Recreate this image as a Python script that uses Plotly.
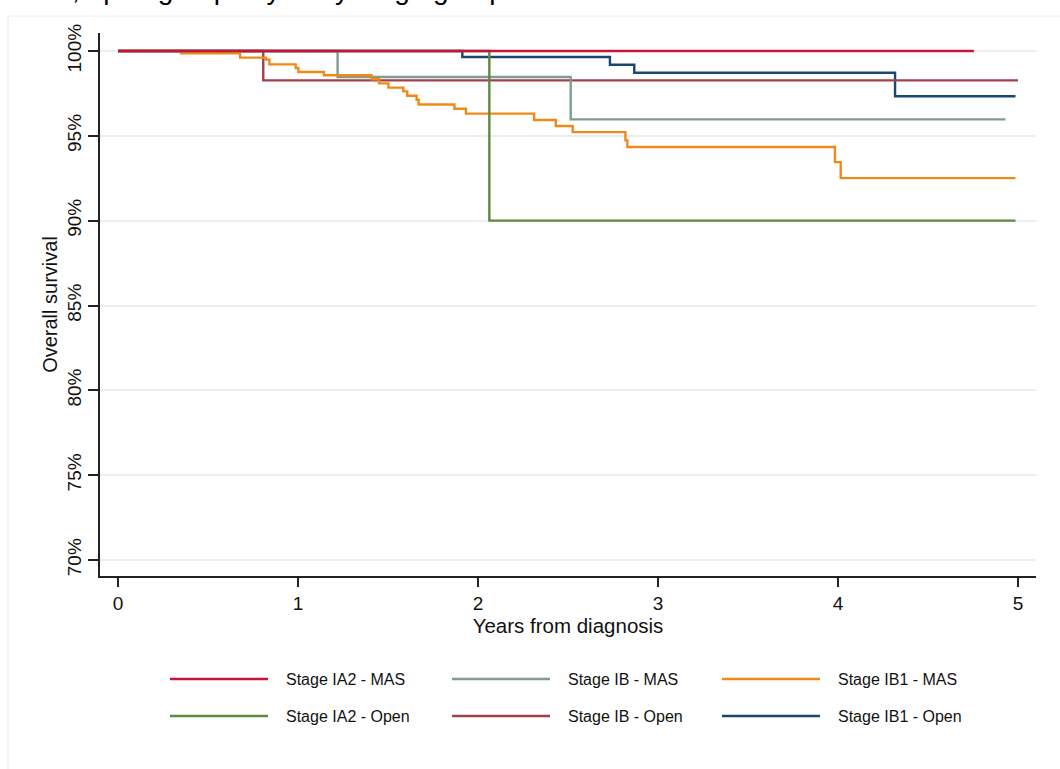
import plotly.graph_objects as go

# ---------------- data ----------------
series_names = ["Stage IA2 - MAS", "Stage IB - MAS", "Stage IB1 - MAS",
                "Stage IA2 - Open", "Stage IB - Open", "Stage IB1 - Open"]
series_colors = ["#c8143c", "#7f9c90", "#ef8a17",
                 "#5d8a3c", "#a0404f", "#1a476f"]

ia2_mas_t = [0, 4.755]
ia2_mas_s = [100, 100]

ib_mas_t = [0, 1.22, 2.515, 4.93]
ib_mas_s = [100, 98.47, 95.97, 95.97]

ib1_mas_t = [0, 0.35, 0.678, 0.822, 0.841, 0.987, 1.002, 1.144, 1.409, 1.45,
             1.502, 1.585, 1.607, 1.659, 1.67, 1.869, 1.933, 2.312, 2.432,
             2.526, 2.819, 2.83, 3.983, 4.015, 4.986]
ib1_mas_s = [100, 99.86, 99.61, 99.49, 99.21, 99.0, 98.76, 98.57, 98.33, 98.09,
             97.84, 97.62, 97.36, 97.13, 96.85, 96.6, 96.31, 95.93, 95.58,
             95.22, 94.73, 94.34, 93.45, 92.51, 92.51]

ia2_open_t = [0, 2.063, 4.986]
ia2_open_s = [100, 90, 90]

ib_open_t = [0, 0.807, 5.0]
ib_open_s = [100, 98.27, 98.27]

ib1_open_t = [0, 1.913, 2.733, 2.868, 4.317, 4.986]
ib1_open_s = [100, 99.65, 99.19, 98.72, 97.33, 97.33]

x_ticks = [0, 1, 2, 3, 4, 5]
y_ticks = [70, 75, 80, 85, 90, 95, 100]
y_tick_labels = ["70%", "75%", "80%", "85%", "90%", "95%", "100%"]

title_text = "c, open groups by early stage group"
x_title = "Years from diagnosis"
y_title = "Overall survival"

series_data = {
    "Stage IA2 - MAS": (ia2_mas_t, ia2_mas_s),
    "Stage IB - MAS": (ib_mas_t, ib_mas_s),
    "Stage IB1 - MAS": (ib1_mas_t, ib1_mas_s),
    "Stage IA2 - Open": (ia2_open_t, ia2_open_s),
    "Stage IB - Open": (ib_open_t, ib_open_s),
    "Stage IB1 - Open": (ib1_open_t, ib1_open_s),
}
color_of = dict(zip(series_names, series_colors))

# drawing order (red drawn last, on top)
draw_order = ["Stage IB1 - Open", "Stage IB - Open", "Stage IB - MAS",
              "Stage IB1 - MAS", "Stage IA2 - Open", "Stage IA2 - MAS"]

W, H = 1060, 769
ML, MR, MT, MB = 100, 24, 33, 193
PW, PH = W - ML - MR, H - MT - MB

def px2x(px):
    return (px - ML) / PW

def py2y(py):
    return (H - MB - py) / PH

fig = go.Figure()
for name in draw_order:
    t, s = series_data[name]
    fig.add_trace(go.Scatter(
        x=t, y=s, mode="lines", name=name, line_shape="hv",
        line=dict(color=color_of[name], width=2.4), showlegend=False,
        hoverinfo="x+y+name"))

FONT = "Liberation Sans, Arial, sans-serif"

shapes = []
annotations = []

# faint outer frame
shapes.append(dict(type="rect", xref="paper", yref="paper",
                   x0=px2x(8), x1=px2x(1075), y0=py2y(790), y1=py2y(16),
                   line=dict(color="#ececec", width=1), layer="below"))

# manual legend (3 columns x 2 rows, row-major)
col_line_x0 = [170, 452, 722]
row_y = [679, 716]
for i, name in enumerate(series_names):
    r, c = divmod(i, 3)
    x0 = col_line_x0[c]
    yy = row_y[r]
    shapes.append(dict(type="line", xref="paper", yref="paper",
                       x0=px2x(x0), x1=px2x(x0 + 98), y0=py2y(yy), y1=py2y(yy),
                       line=dict(color=color_of[name], width=2.4)))
    annotations.append(dict(xref="paper", yref="paper", x=px2x(x0 + 114),
                            y=py2y(yy), xanchor="left", yanchor="middle",
                            text=name, showarrow=False,
                            font=dict(family=FONT, size=16, color="#111")))

# clipped title at the very top (as in the reference, only its lower edge shows)
annotations.append(dict(xref="paper", yref="paper", x=px2x(56), y=py2y(7),
                        xanchor="left", yanchor="bottom", text=title_text,
                        showarrow=False,
                        font=dict(family=FONT, size=28, color="#000")))

fig.update_layout(
    width=W, height=H,
    margin=dict(l=ML, r=MR, t=MT, b=MB, pad=0),
    paper_bgcolor="white", plot_bgcolor="white",
    font=dict(family=FONT, color="#111"),
    shapes=shapes, annotations=annotations,
    showlegend=False,
)
fig.update_xaxes(
    range=[-0.1, 5.1], tickvals=x_ticks, ticks="outside", ticklen=9,
    tickwidth=1.5, tickcolor="#222", showline=True, linecolor="#222",
    linewidth=1.5, showgrid=False, zeroline=False,
    tickfont=dict(size=19, color="#111"),
    title=dict(text=x_title, font=dict(size=20.5, color="#111"), standoff=4),
)
fig.update_yaxes(
    range=[69.06, 101.06], tickvals=y_ticks, ticktext=y_tick_labels,
    tickangle=-90,
    ticks="outside", ticklen=10, tickwidth=1.5, tickcolor="#222",
    showline=True, linecolor="#222", linewidth=1.5,
    showgrid=True, gridcolor="#e8f0f2", gridwidth=1.5, zeroline=False,
    tickfont=dict(size=19, color="#111"),
    title=dict(text=y_title, font=dict(size=20, color="#111"), standoff=1),
)

fig.write_html("out.html", include_plotlyjs=True,
               config={"displayModeBar": False},
               post_script="document.body.style.margin='0';")
